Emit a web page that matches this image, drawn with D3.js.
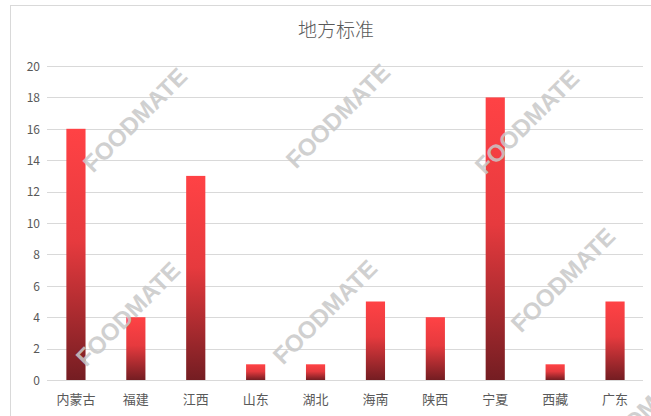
<!DOCTYPE html>
<meta charset="utf-8">
<style>
body { margin: 0; background: #fff; }
text { font-family: "Noto Sans CJK SC", "Noto Sans", sans-serif; }
.tick text { fill: #595959; }
.wm { font: bold 24px "Liberation Sans", Arial, sans-serif; fill: #c8c8c8; opacity: 0.85; }
</style>
<body>
<script src="https://d3js.org/d3.v7.min.js"></script>
<script>

var provinces = ["内蒙古", "福建", "江西", "山东", "湖北", "海南", "陕西", "宁夏", "西藏", "广东"];
var counts = [16, 4, 13, 1, 1, 5, 4, 18, 1, 5];
var yTicks = [0, 2, 4, 6, 8, 10, 12, 14, 16, 18, 20];

var width = 651,
    height = 416;

var margin = {top: 66, right: 6, bottom: 36, left: 46};

var svg = d3.select("body").append("svg")
    .attr("width", width)
    .attr("height", height);

// chart frame
svg.append("rect")
    .attr("x", 10.5).attr("y", 5.5)
    .attr("width", width).attr("height", height)
    .attr("fill", "none")
    .attr("stroke", "#d9d9d9");

var defs = svg.append("defs");
var grad = defs.append("linearGradient")
    .attr("id", "barGrad")
    .attr("x1", 0).attr("y1", 0).attr("x2", 0).attr("y2", 1);
grad.append("stop").attr("offset", "0%").attr("stop-color", "#ff4245");
grad.append("stop").attr("offset", "45%").attr("stop-color", "#e63a3e");
grad.append("stop").attr("offset", "100%").attr("stop-color", "#741d22");

var x = d3.scaleBand()
    .domain(provinces)
    .range([margin.left, width - margin.right])
    .paddingInner(0.68)
    .paddingOuter(0.34);

var y = d3.scaleLinear()
    .domain([0, 20])
    .range([height - margin.bottom, margin.top]);

// gridlines
svg.append("g")
    .selectAll("line")
    .data(yTicks)
  .enter().append("line")
    .attr("x1", 47).attr("x2", 643)
    .attr("y1", function(d) { return Math.round(y(d)) + 0.5; })
    .attr("y2", function(d) { return Math.round(y(d)) + 0.5; })
    .attr("stroke", "#d9d9d9");

// y axis labels
var yAxis = svg.append("g")
    .attr("class", "y axis")
    .attr("transform", "translate(40,0)")
    .call(d3.axisLeft(y).tickValues(yTicks).tickSize(0).tickPadding(0));
yAxis.select(".domain").remove();
yAxis.selectAll("text").style("font-size", "12px").attr("dy", "0.35em");

// bars
svg.append("g")
    .selectAll("rect")
    .data(counts)
  .enter().append("rect")
    .attr("x", function(d, i) { return x(provinces[i]); })
    .attr("width", x.bandwidth())
    .attr("y", function(d) { return y(d); })
    .attr("height", function(d) { return y(0) - y(d); })
    .attr("fill", "url(#barGrad)");

// x axis labels
var xAxis = svg.append("g")
    .attr("class", "x axis")
    .attr("transform", "translate(0," + (height - margin.bottom + 12) + ")")
    .call(d3.axisBottom(x).tickSize(0).tickPadding(0));
xAxis.select(".domain").remove();
xAxis.selectAll("text").style("font-size", "13px").attr("dy", "0.9em");

// title
svg.append("text")
    .attr("x", 336)
    .attr("y", 37)
    .attr("text-anchor", "middle")
    .style("font-size", "19px")
    .style("font-weight", 300)
    .attr("fill", "#595959")
    .text("地方标准");

// watermarks
var marks = [[135, 120], [338, 116], [527, 122], [128, 314], [325, 312], [563, 280], [640, 415]];
svg.append("g")
    .selectAll("text")
    .data(marks)
  .enter().append("text")
    .attr("class", "wm")
    .attr("text-anchor", "middle")
    .attr("transform", function(d) { return "translate(" + d[0] + "," + d[1] + ") rotate(-45)"; })
    .attr("dy", "0.35em")
    .text("FOODMATE");

</script>
</body>
